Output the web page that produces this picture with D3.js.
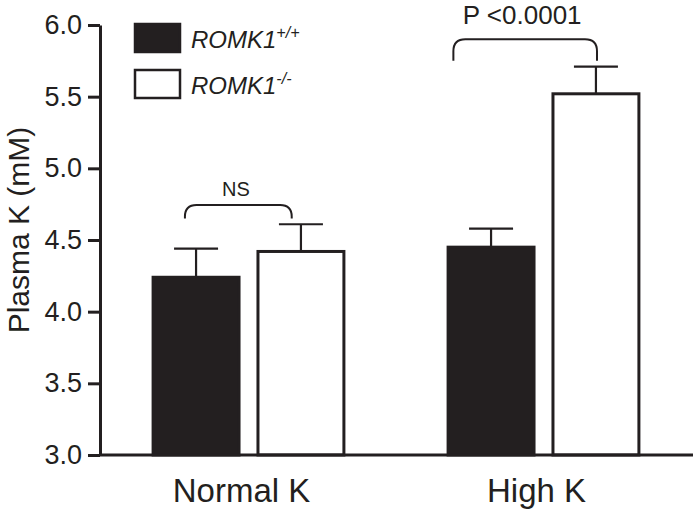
<!DOCTYPE html>
<html><head><meta charset="utf-8">
<title>Plasma K</title>
<script src="https://cdn.jsdelivr.net/npm/d3@7"></script>
<style>
  body { margin: 0; background: #fff; }
  svg { display: block; font-family: "Liberation Sans", Arial, Helvetica, sans-serif; }
  .axis path, .axis line { stroke: #231f20; stroke-width: 3; }
  .axis text { fill: #231f20; font-size: 27px; font-family: "Liberation Sans", Arial, sans-serif; }
</style>
</head>
<body>
<svg width="693" height="512"></svg>
<script>
  //begin: data
  var groups = ["Normal K", "High K"];
  var series = ["ROMK1+/+", "ROMK1-/-"];
  var meanWT = [4.24, 4.45],
      seWT   = [0.20, 0.13];
  var meanKO = [4.42, 5.52],
      seKO   = [0.19, 0.19];
  var yTicks = [3.0, 3.5, 4.0, 4.5, 5.0, 5.5, 6.0];
  // significance brackets: ends/top in data units, x as fraction of group band
  var brackets = [
    {group: "Normal K", label: "NS",        x0: 0.172, x1: 0.723, yEnd: 4.65,  yTop: 4.745, yText: 4.81, xText: 0.435, size: 20},
    {group: "High K",   label: "P <0.0001", x0: 0.035, x1: 0.776, yEnd: 5.75,  yTop: 5.90,  yText: 6.01, xText: 0.39,  size: 26}
  ];
  //end: data

  var ink = "#231f20";
  var svg = d3.select("svg");

  var y = d3.scaleLinear().domain([3, 6]).range([455, 25]);

  var x0 = d3.scaleBand().domain(groups)
      .range([101, 691]).paddingInner(0.343).paddingOuter(0.1715);
  var x1 = d3.scaleBand().domain(series)
      .range([0, x0.bandwidth()]).paddingInner(0.152).paddingOuter(0);

  var rows = [];
  groups.forEach(function(g, i){
    rows.push({group: g, s: series[0], mean: meanWT[i], se: seWT[i]});
    rows.push({group: g, s: series[1], mean: meanKO[i], se: seKO[i]});
  });

  // bars
  svg.append("g").selectAll("rect")
    .data(rows)
    .enter().append("rect")
      .attr("x", function(d){ return x0(d.group) + x1(d.s) + 1.5; })
      .attr("y", function(d){ return y(d.mean); })
      .attr("width", x1.bandwidth() - 3)
      .attr("height", function(d){ return y(3) - y(d.mean); })
      .attr("fill", function(d){ return d.s === series[0] ? ink : "#fff"; })
      .attr("stroke", ink)
      .attr("stroke-width", 3);

  // error bars (upper only)
  var capW = 44;
  var eb = svg.append("g").attr("stroke", ink).attr("stroke-width", 2.2);
  rows.forEach(function(d){
    var cx = x0(d.group) + x1(d.s) + x1.bandwidth()/2;
    eb.append("line").attr("x1", cx).attr("x2", cx)
      .attr("y1", y(d.mean)).attr("y2", y(d.mean + d.se));
    eb.append("line").attr("x1", cx - capW/2).attr("x2", cx + capW/2)
      .attr("y1", y(d.mean + d.se)).attr("y2", y(d.mean + d.se));
  });

  // axes
  svg.append("g").attr("class", "axis")
    .attr("transform", "translate(100,0)")
    .call(d3.axisLeft(y).tickValues(yTicks).tickFormat(d3.format(".1f"))
      .tickSize(12).tickSizeOuter(0).tickPadding(6));

  svg.append("line")
    .attr("x1", 100).attr("x2", 693)
    .attr("y1", y(3)).attr("y2", y(3))
    .attr("stroke", ink).attr("stroke-width", 3);

  // category labels
  svg.append("g").selectAll("text")
    .data(groups)
    .enter().append("text")
      .attr("x", function(g){ return x0(g) + x0.bandwidth()/2 - 7; })
      .attr("y", 502)
      .attr("text-anchor", "middle")
      .attr("font-size", 33)
      .attr("fill", ink)
      .text(function(g){ return g; });

  // y label
  svg.append("text")
    .attr("transform", "translate(29,230) rotate(-90)")
    .attr("text-anchor", "middle")
    .attr("font-size", 30)
    .attr("fill", ink)
    .text("Plasma K (mM)");

  // brackets
  brackets.forEach(function(b){
    var bx = x0(b.group), bw = x0.bandwidth();
    var xa = bx + b.x0*bw, xb = bx + b.x1*bw;
    var yt = y(b.yTop), ye = y(b.yEnd);
    var r = Math.min(12, (ye - yt)*0.85);
    svg.append("path")
      .attr("d", "M" + xa + "," + ye + " L" + xa + "," + (yt + r) +
                 " Q" + xa + "," + yt + " " + (xa + r) + "," + yt +
                 " L" + (xb - r) + "," + yt +
                 " Q" + xb + "," + yt + " " + xb + "," + (yt + r) +
                 " L" + xb + "," + ye)
      .attr("fill", "none").attr("stroke", ink).attr("stroke-width", 2);
    svg.append("text")
      .attr("x", bx + b.xText*bw).attr("y", y(b.yText))
      .attr("text-anchor", "middle")
      .attr("font-size", b.size)
      .attr("fill", ink)
      .text(b.label);
  });

  // legend
  var legend = svg.append("g").attr("transform", "translate(134,23)");
  var legendItems = [
    {name: "ROMK1", sup: "+/+", fill: ink},
    {name: "ROMK1", sup: "-/-", fill: "#fff"}
  ];
  legendItems.forEach(function(d, i){
    var g = legend.append("g").attr("transform", "translate(0," + (i*46) + ")");
    g.append("rect")
      .attr("x", 1).attr("y", 1).attr("width", 45).attr("height", 28)
      .attr("fill", d.fill).attr("stroke", ink).attr("stroke-width", 2.5);
    var t = g.append("text")
      .attr("x", 57).attr("y", 25)
      .attr("font-size", 24).attr("font-style", "italic")
      .attr("fill", ink);
    t.append("tspan").text(d.name);
    t.append("tspan").attr("font-size", 16).attr("dy", -10).text(d.sup);
  });
</script>
</body></html>
